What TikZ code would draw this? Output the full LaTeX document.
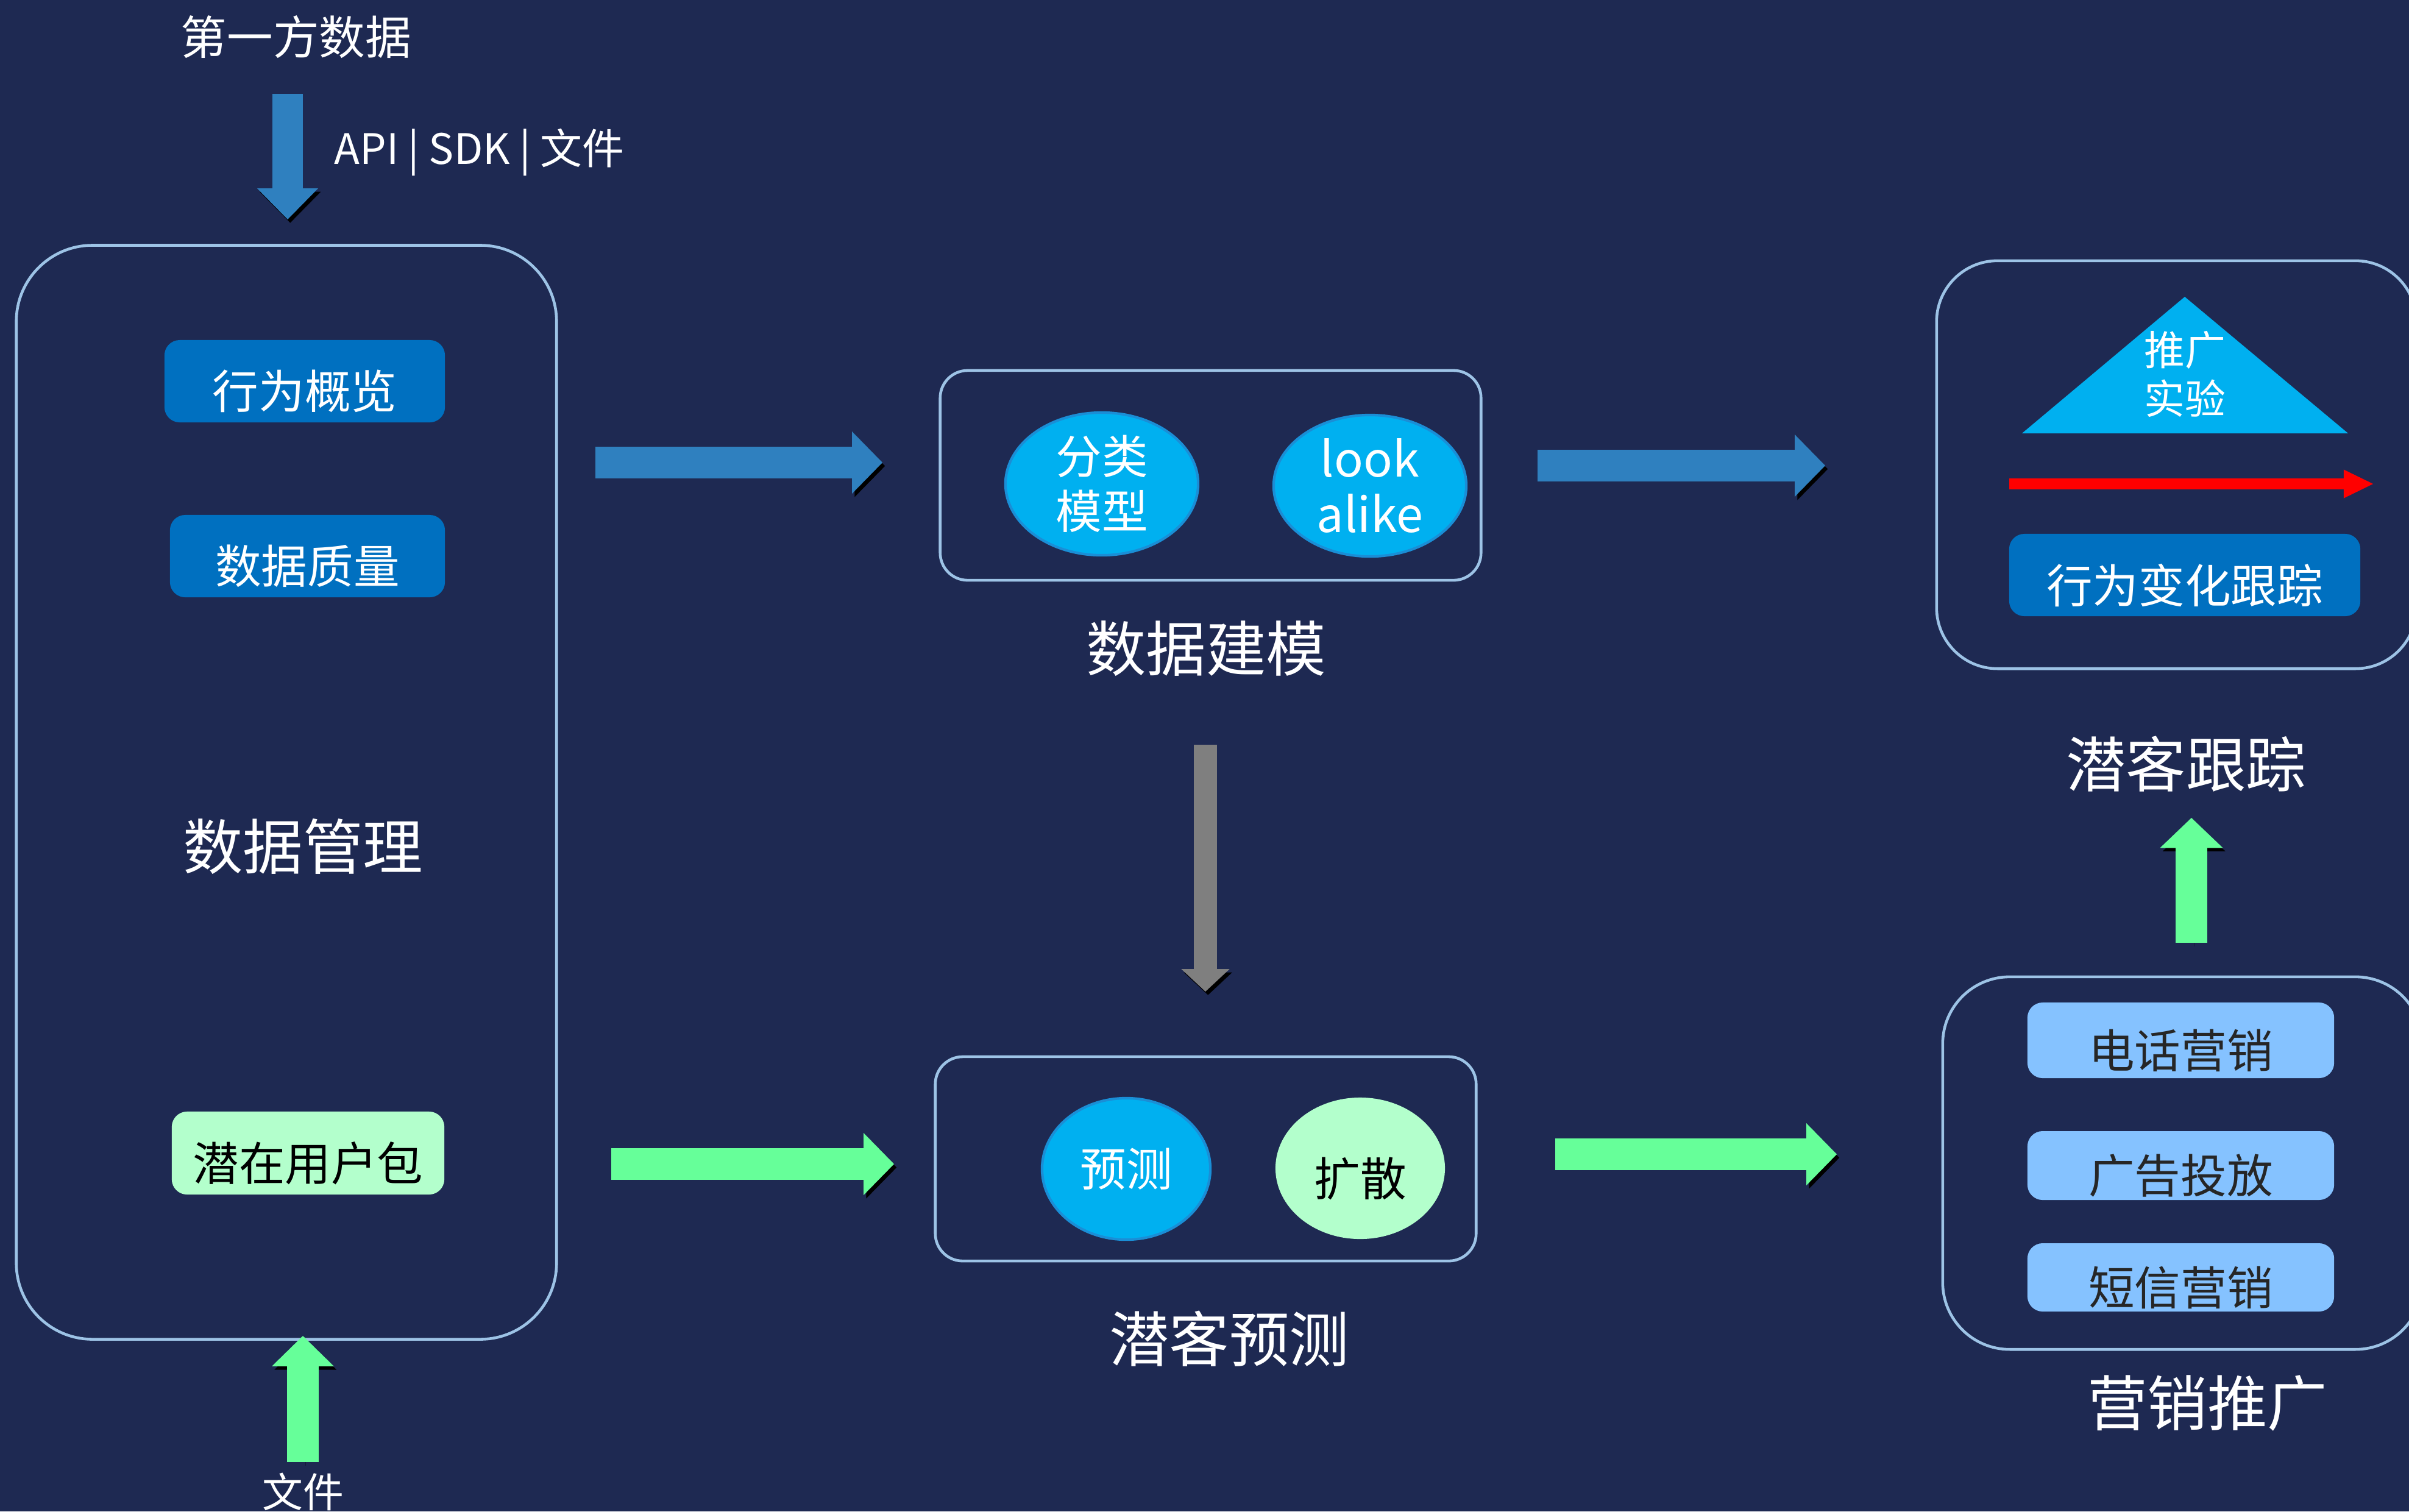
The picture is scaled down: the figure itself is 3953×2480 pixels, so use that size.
\documentclass[tikz,border=0pt]{standalone}
\usepackage{fontspec}
\setmainfont{Noto Sans CJK SC}
\usetikzlibrary{arrows.meta,shapes.geometric}

\definecolor{bgc}{HTML}{1E2952}
\definecolor{framec}{HTML}{9DC3E6}
\definecolor{boxblue}{HTML}{0070C0}
\definecolor{ellblue}{HTML}{00B0F0}
\definecolor{ellrim}{HTML}{1A8ED6}
\definecolor{paleg}{HTML}{B3FFCC}
\definecolor{paleb}{HTML}{85C2FF}
\definecolor{arrblue}{HTML}{2F80BF}
\definecolor{arrgreen}{HTML}{66FF99}
\definecolor{arrgray}{HTML}{7F7F7F}
\definecolor{txtdark}{HTML}{262626}

% text sitting a little below the middle of its box
\newcommand\lowtext[1]{\raisebox{-4.7pt}[\height][\depth]{#1}}

\begin{document}
\begin{tikzpicture}[x=0.01cm,y=-0.01cm,
  panel/.style={draw=framec, line width=1.3pt, rounded corners=#1, inner sep=0pt},
  tag/.style={rounded corners=0.25cm, inner sep=0pt, font=\fontsize{21.5pt}{25pt}\selectfont},
  bluetag/.style={tag, fill=boxblue, text=white},
  palebtag/.style={tag, fill=paleb, text=txtdark},
  blob/.style={ellipse, inner sep=0pt, align=center, font=\fontsize{21.5pt}{25.5pt}\selectfont},
  title/.style={text=white, inner sep=0pt, font=\fontsize{28pt}{32pt}\selectfont},
  small/.style={text=white, inner sep=0pt, font=\fontsize{19pt}{22pt}\selectfont},
  blockarrow/.style n args={4}{draw=#1, line width=#2,
    -{Triangle[length=#4, width=#3, line width=0pt]},
    preaction={draw=black, draw opacity=0.35, transform canvas={xshift=1.2pt, yshift=-1.6pt}}},
]
% background and page frame
\fill[bgc] (0,0) rectangle (3953,2480);
\useasboundingbox (0,0) rectangle (3953,2480);

% ---------- data management column ----------
\node[title] (src) at (486,61) {\fontsize{21.5pt}{25pt}\selectfont 第一方数据};
\node[small, anchor=west, font=\fontsize{19.6pt}{22pt}\selectfont] (api) at (548,250) {API | SDK | 文件};
\node[panel=1.25cm, minimum width=8.86cm, minimum height=17.94cm] (mgmt) at (470,1300) {};
\node[bluetag, minimum width=4.60cm, minimum height=1.35cm] (beh) at (500,625.5) {\lowtext{行为概览}};
\node[bluetag, minimum width=4.51cm, minimum height=1.35cm] (qual) at (504.5,912.5) {\lowtext{数据质量}};
\node[title] (mgmtlbl) at (497,1389) {数据管理};
\node[tag, fill=paleg, text=black, minimum width=4.47cm, minimum height=1.36cm] (pool) at (505.5,1892) {\lowtext{潜在用户包}};
\node[small] (file) at (497,2448) {文件};

% ---------- modelling ----------
\node[panel=0.45cm, minimum width=8.87cm, minimum height=3.44cm] (model) at (1986.5,780) {};
\node[blob, fill=ellblue, draw=ellrim, line width=1.2pt, text=white, minimum width=3.16cm, minimum height=2.34cm] (cls) at (1808,794) {分类\\模型};
\node[blob, fill=ellblue, draw=ellrim, line width=1.2pt, text=white, minimum width=3.16cm, minimum height=2.32cm,
  font=\fontsize{22.5pt}{26pt}\selectfont] (look) at (2248,797) {look\\alike};
\node[title] (modellbl) at (1979,1064) {数据建模};

% ---------- prediction ----------
\node[panel=0.45cm, minimum width=8.87cm, minimum height=3.35cm] (pred) at (1978.5,1901.5) {};
\node[blob, fill=ellblue, draw=ellrim, line width=1.2pt, text=white, minimum width=2.76cm, minimum height=2.32cm] (yc) at (1848,1918) {预测};
\node[blob, fill=paleg, text=black, minimum width=2.78cm, minimum height=2.32cm] (ks) at (2232,1917) {\lowtext{扩散}};
\node[title] (predlbl) at (2017,2197) {潜客预测};

% ---------- tracking ----------
\node[panel=1.0cm, minimum width=7.87cm, minimum height=6.69cm] (track) at (3571.5,762.5) {};
\fill[ellblue] (3318,711) -- (3585,487) -- (3853,711) -- cycle;
\node[small, align=center, font=\fontsize{19pt}{22.5pt}\selectfont] (exp) at (3585,614) {推广\\实验};
\coordinate (rs) at (3297,794);
\coordinate (re) at (3894,794);
\draw[red, line width=5.1pt, -{Triangle[length=13.7pt, width=13.4pt, line width=0pt]}] (rs) -- (re);
\node[bluetag, minimum width=5.76cm, minimum height=1.35cm] (chg) at (3585,943.5) {\lowtext{行为变化跟踪}};
\node[title] (tracklbl) at (3587,1254) {潜客跟踪};

% ---------- marketing ----------
\node[panel=1.1cm, minimum width=7.87cm, minimum height=6.11cm] (mkt) at (3581.5,1908.5) {};
\node[palebtag, minimum width=5.03cm, minimum height=1.24cm] (tel) at (3578.5,1707) {\lowtext{电话营销}};
\node[palebtag, minimum width=5.03cm, minimum height=1.13cm] (ad) at (3578.5,1912.5) {\lowtext{广告投放}};
\node[palebtag, minimum width=5.03cm, minimum height=1.12cm] (sms) at (3578.5,2096) {\lowtext{短信营销}};
\node[title] (mktlbl) at (3622,2302) {营销推广};

% ---------- flow arrows ----------
\coordinate (inS) at (472,154);   \coordinate (inE) at (472,360);
\coordinate (m1S) at (977,759);   \coordinate (m1E) at (1448,759);
\coordinate (m2S) at (2523,764);  \coordinate (m2E) at (2995,764);
\coordinate (dS)  at (1978,1222); \coordinate (dE)  at (1978,1627);
\coordinate (p1S) at (1003,1910); \coordinate (p1E) at (1467,1910);
\coordinate (p2S) at (2552,1894); \coordinate (p2E) at (3014,1894);
\coordinate (uS)  at (3596,1547); \coordinate (uE)  at (3596,1342);
\coordinate (fS)  at (497,2399);  \coordinate (fE)  at (497,2192);

\draw[blockarrow={arrblue}{14pt}{28.5pt}{14.5pt}] (inS) -- (inE);
\draw[blockarrow={arrblue}{14.8pt}{29pt}{14.2pt}] (m1S) -- (m1E);
\draw[blockarrow={arrblue}{14.8pt}{29pt}{14.2pt}] (m2S) -- (m2E);
\draw[blockarrow={arrgray}{10.8pt}{22.5pt}{10.5pt}] (dS) -- (dE);
\draw[blockarrow={arrgreen}{14.8pt}{29pt}{14.2pt}] (p1S) -- (p1E);
\draw[blockarrow={arrgreen}{14.8pt}{29pt}{14.2pt}] (p2S) -- (p2E);
\draw[blockarrow={arrgreen}{15pt}{29.3pt}{14pt}] (uS) -- (uE);
\draw[blockarrow={arrgreen}{14.8pt}{29pt}{14.2pt}] (fS) -- (fE);
\end{tikzpicture}
\end{document}
